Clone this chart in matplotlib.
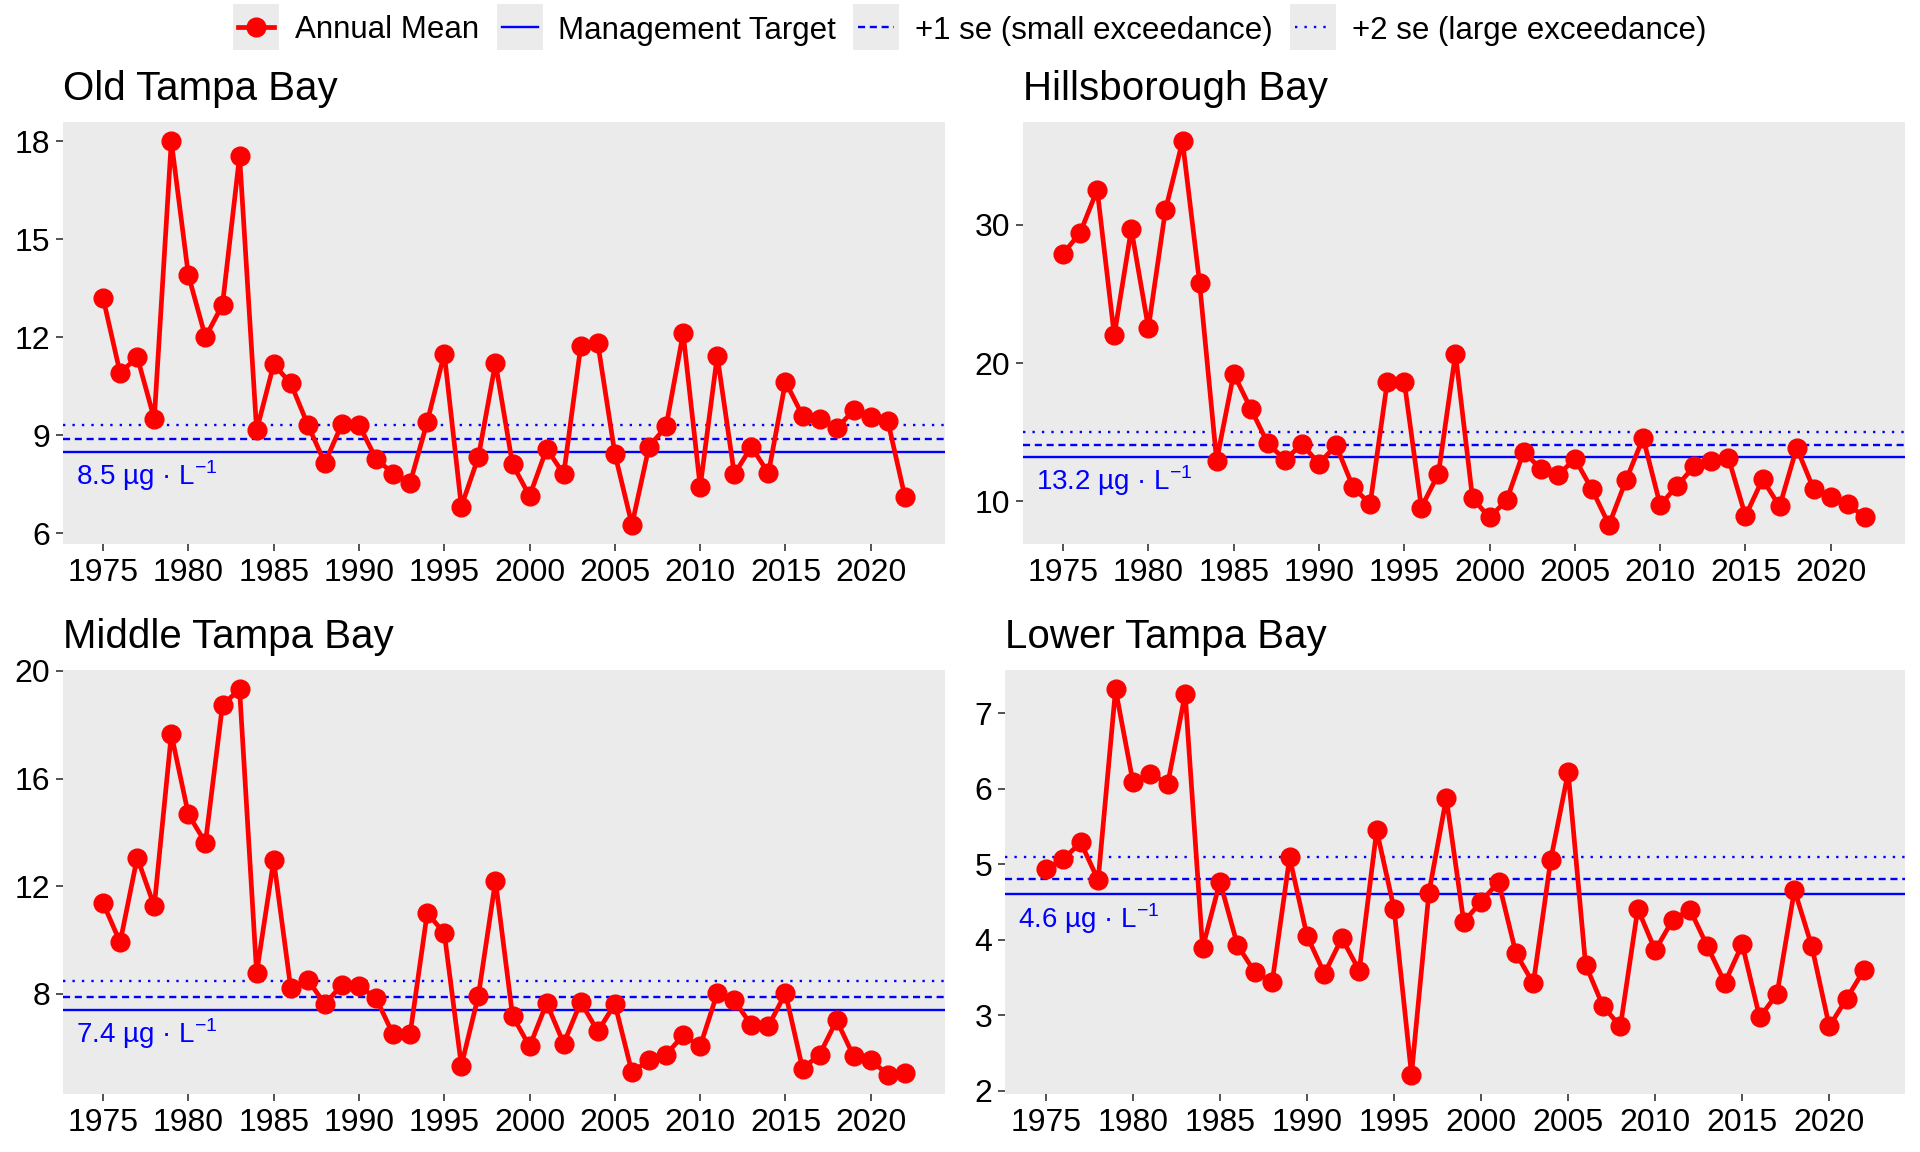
import matplotlib
matplotlib.use("Agg")
import matplotlib.pyplot as plt
from matplotlib.patches import Rectangle
from matplotlib.lines import Line2D

plt.rcParams['font.family'] = ['Liberation Sans', 'DejaVu Sans']
plt.rcParams['mathtext.fontset'] = 'custom'
plt.rcParams['mathtext.rm'] = 'Liberation Sans'

# annual mean chlorophyll-a by bay segment
years = list(range(1975, 2023))

otb = [13.2, 10.9, 11.4, 9.5, 18.0, 13.9, 12.0, 13.0, 17.55, 9.15,
       11.17, 10.59, 9.32, 8.15, 9.35, 9.32, 8.28, 7.83, 7.55, 9.41,
       11.5, 6.82, 8.34, 11.22, 8.11, 7.14, 8.59, 7.81, 11.73, 11.81,
       8.43, 6.26, 8.65, 9.27, 12.12, 7.42, 11.43, 7.81, 8.65, 7.84,
       10.64, 9.6, 9.51, 9.21, 9.77, 9.55, 9.43, 7.12]

hb = [27.9, 29.42, 32.52, 22.0, 29.68, 22.53, 31.06, 36.04, 25.79, 12.94,
      19.22, 16.7, 14.19, 13.0, 14.13, 12.73, 14.05, 11.01, 9.81, 18.61,
      18.64, 9.55, 11.99, 20.68, 10.21, 8.83, 10.08, 13.6, 12.33, 11.88,
      13.07, 10.87, 8.3, 11.54, 14.58, 9.73, 11.14, 12.54, 12.91, 13.13,
      8.94, 11.59, 9.63, 13.87, 10.87, 10.34, 9.81, 8.83]

mtb = [11.38, 9.92, 13.07, 11.26, 17.65, 14.67, 13.62, 18.74, 19.32, 8.78,
       12.97, 8.21, 8.52, 7.63, 8.34, 8.31, 7.84, 6.5, 6.53, 11.01,
       10.26, 5.34, 7.94, 12.21, 7.19, 6.05, 7.66, 6.16, 7.7, 6.61,
       7.63, 5.09, 5.54, 5.75, 6.46, 6.06, 8.03, 7.76, 6.84, 6.81,
       8.03, 5.23, 5.75, 7.02, 5.68, 5.54, 5.0, 5.06]

ltb = [4.94, 5.07, 5.29, 4.79, 7.32, 6.09, 6.2, 6.07, 7.26, 3.89,
       4.77, 3.93, 3.57, 3.44, 5.09, 4.05, 3.55, 4.02, 3.59, 5.45,
       4.41, 2.21, 4.62, 5.88, 4.24, 4.5, 4.77, 3.82, 3.42, 5.06,
       6.22, 3.67, 3.12, 2.85, 4.41, 3.86, 4.26, 4.4, 3.91, 3.43,
       3.94, 2.97, 3.28, 4.66, 3.91, 2.85, 3.22, 3.6]

names = ["Old Tampa Bay", "Hillsborough Bay", "Middle Tampa Bay", "Lower Tampa Bay"]
series = [otb, hb, mtb, ltb]
targets = [8.5, 13.2, 7.4, 4.6]
small_ex = [8.9, 14.1, 7.9, 4.8]
large_ex = [9.3, 15.0, 8.5, 5.1]
yticks = [[6, 9, 12, 15, 18], [10, 20, 30], [8, 12, 16, 20], [2, 3, 4, 5, 6, 7]]
xticks = list(range(1975, 2021, 5))

W, H = 1920, 1152
fig = plt.figure(figsize=(W / 100, H / 100), dpi=100)

# panel boxes in pixels: left, top, right, bottom
boxes = [(63, 122, 945, 544), (1023, 122, 1905, 544),
         (63, 670, 945, 1094), (1005, 670, 1905, 1094)]

red = "#FF0000"
blue = "#0000FF"
bg = "#EBEBEB"
blw = 1.7
dash = (3, 2)
dot = (1, 3)

for i in range(4):
    l, t, r, b = boxes[i]
    ax = fig.add_axes([l / W, 1 - b / H, (r - l) / W, (b - t) / H])
    ax.set_facecolor(bg)
    for s in ax.spines.values():
        s.set_visible(False)
    ax.axhline(targets[i], color=blue, lw=blw, zorder=1)
    ax.axhline(small_ex[i], color=blue, lw=blw, dashes=dash, zorder=1)
    ax.axhline(large_ex[i], color=blue, lw=blw, dashes=dot, zorder=1)
    ax.plot(years, series[i], color=red, lw=3.4, marker='o', ms=13.5, zorder=3)
    ax.margins(x=0.05, y=0.05)
    ax.set_xticks(xticks)
    ax.set_yticks(yticks[i])
    ax.tick_params(axis='both', length=5, width=1.2, color='#333333',
                   labelsize=23, labelcolor='black')
    ax.tick_params(axis='x', pad=5)
    ax.tick_params(axis='y', pad=4)
    ax.set_title(names[i], loc='left', fontsize=29, pad=16)
    ax.annotate(f"{targets[i]} µg · L$^{{-1}}$", xy=(0, targets[i]),
                xycoords=ax.get_yaxis_transform(), xytext=(9, -24),
                textcoords='offset points', ha='left', va='baseline',
                color=blue, fontsize=20)

# legend drawn by hand, ggplot style keys with grey boxes
lax = fig.add_axes([0, 0, 1, 1])
lax.set_xlim(0, W)
lax.set_ylim(H, 0)
lax.axis('off')

labels = ["Annual Mean", "Management Target", "+1 se (small exceedance)",
          "+2 se (large exceedance)"]
key = 46
gap_in = 16
gap_out = 17
yc = 27
renderer = fig.canvas.get_renderer()
texts = []
widths = []
for lab in labels:
    tx = lax.text(0, yc, lab, fontsize=22.5, va='center_baseline', ha='left')
    texts.append(tx)
    widths.append(tx.get_window_extent(renderer).width)
total = sum(key + gap_in + w for w in widths) + gap_out * (len(labels) - 1)
x = 970 - total / 2
for j in range(len(labels)):
    lax.add_patch(Rectangle((x, yc - key / 2), key, key, color=bg, lw=0))
    x0, x1 = x + 5, x + key - 5
    if j == 0:
        lax.add_line(Line2D([x0, x1], [yc, yc], color=red, lw=3.4))
        lax.add_line(Line2D([x + key / 2], [yc], color=red, marker='o', ms=13.5))
    elif j == 1:
        lax.add_line(Line2D([x0, x1], [yc, yc], color=blue, lw=blw))
    elif j == 2:
        lax.add_line(Line2D([x0, x1], [yc, yc], color=blue, lw=blw, dashes=dash))
    else:
        lax.add_line(Line2D([x0, x1], [yc, yc], color=blue, lw=blw, dashes=dot))
    texts[j].set_x(x + key + gap_in)
    x += key + gap_in + widths[j] + gap_out

fig.savefig("out.png", dpi=100)
